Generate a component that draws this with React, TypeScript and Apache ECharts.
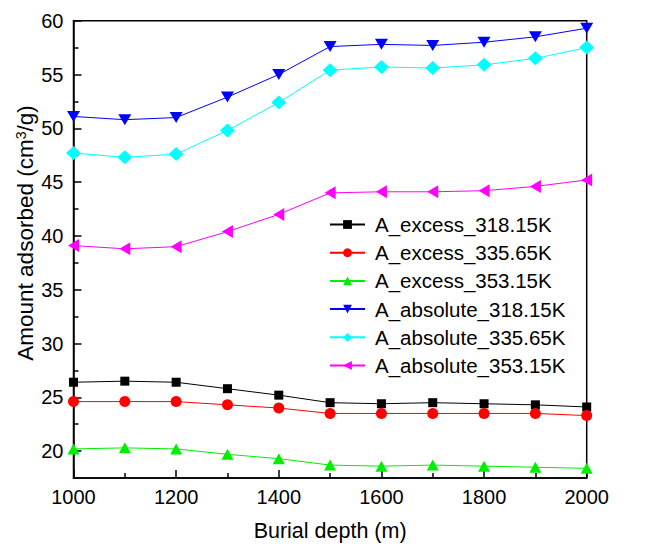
import React, { useEffect, useRef } from "react";
import * as echarts from "echarts";

const depths = [1000, 1100, 1200, 1300, 1400, 1500, 1600, 1700, 1800, 1900, 2000];
const excess318 = [26.4, 26.5, 26.4, 25.8, 25.2, 24.5, 24.4, 24.5, 24.4, 24.3, 24.1];
const excess335 = [24.6, 24.6, 24.6, 24.3, 24.0, 23.5, 23.5, 23.5, 23.5, 23.5, 23.3];
const excess353 = [20.2, 20.3, 20.2, 19.7, 19.3, 18.7, 18.6, 18.7, 18.6, 18.5, 18.4];
const absolute318 = [51.1, 50.8, 51.0, 52.9, 55.0, 57.6, 57.8, 57.7, 58.0, 58.5, 59.3];
const absolute335 = [47.7, 47.3, 47.6, 49.8, 52.4, 55.4, 55.7, 55.6, 55.9, 56.5, 57.5];
const absolute353 = [39.1, 38.8, 39.0, 40.4, 42.0, 44.0, 44.1, 44.1, 44.2, 44.6, 45.2];

const seriesNames = [
  "A_excess_318.15K",
  "A_excess_335.65K",
  "A_excess_353.15K",
  "A_absolute_318.15K",
  "A_absolute_335.65K",
  "A_absolute_353.15K",
];
const yMajorTicks = [20, 25, 30, 35, 40, 45, 50, 55, 60];
const yMinorTicks = [22.5, 27.5, 32.5, 37.5, 42.5, 47.5, 52.5, 57.5];

const FONT = 'Arial, "Liberation Sans", sans-serif';

export default function App() {
  const ref = useRef<HTMLDivElement>(null);
  useEffect(() => {
    if (!ref.current) return;
    const chart = echarts.init(ref.current, null, { renderer: "svg" });
    const values = [excess318, excess335, excess353, absolute318, absolute335, absolute353];
    const colors = ["#000000", "#ff0000", "#00ee00", "#0000ff", "#00ffff", "#ff00ff"];
    const symbols = ["rect", "circle", "triangle", "triangle", "diamond", "triangle"];
    const rotates = [0, 0, 0, 180, 0, 90];
    const sizes: any[] = [9, 11, [12, 11], [13, 11], [15, 14], [13, 11]];
    const series = values.map((arr, i) => ({
      name: seriesNames[i],
      type: "line",
      data: depths.map((d, j) => [d, arr[j]]),
      symbol: symbols[i],
      symbolRotate: rotates[i],
      symbolSize: sizes[i],
      showAllSymbol: true,
      color: colors[i],
      lineStyle: { color: colors[i], width: 1 },
      itemStyle: { color: colors[i] },
      clip: true,
    }));
    chart.setOption({
      animation: false,
      backgroundColor: "#ffffff",
      textStyle: { fontFamily: FONT },
      grid: {
        left: 73.5,
        right: 77.3,
        top: 20.7,
        bottom: 68.7,
        show: true,
        borderColor: "#000",
        borderWidth: 1.5,
        containLabel: false,
      },
      legend: {
        orient: "vertical",
        left: 324,
        top: 209,
        itemWidth: 35,
        itemHeight: 11,
        itemGap: 7.2,
        data: seriesNames,
        textStyle: { fontSize: 20.5, color: "#000", fontFamily: FONT, padding: [0, 0, 0, 5] },
      },
      xAxis: {
        type: "value",
        min: 1000,
        max: 2000,
        interval: 200,
        name: "Burial depth (m)",
        nameLocation: "middle",
        nameGap: 42,
        nameTextStyle: { fontSize: 21.5, color: "#000", fontFamily: FONT },
        axisLine: { show: true, lineStyle: { color: "#000", width: 1.5 } },
        axisTick: { show: true, inside: true, length: 8, lineStyle: { color: "#000", width: 1.5 } },
        minorTick: { show: true, splitNumber: 2, length: 5, lineStyle: { color: "#000", width: 1.5 } },
        axisLabel: {
          fontSize: 20,
          color: "#000",
          margin: 9,
          fontFamily: FONT,
          formatter: (v: number) => String(v),
        },
        splitLine: { show: false },
      },
      yAxis: [
        {
          type: "value",
          min: 17.5,
          max: 60,
          axisLine: { show: true, lineStyle: { color: "#000", width: 1.5 } },
          axisTick: {
            show: true,
            inside: true,
            length: 8,
            customValues: yMajorTicks,
            lineStyle: { color: "#000", width: 1.5 },
          },
          axisLabel: {
            fontSize: 20,
            color: "#000",
            margin: 10,
            customValues: yMajorTicks,
            fontFamily: FONT,
            formatter: (v: number) => String(v),
          },
          splitLine: { show: false },
        },
        {
          type: "value",
          min: 17.5,
          max: 60,
          position: "left",
          axisLine: { show: false },
          axisTick: {
            show: true,
            inside: true,
            length: 5,
            customValues: yMinorTicks,
            lineStyle: { color: "#000", width: 1.5 },
          },
          axisLabel: { show: false },
          splitLine: { show: false },
        },
      ],
      graphic: [
        {
          type: "text",
          x: 25,
          y: 233,
          rotation: Math.PI / 2,
          style: {
            text: "{a|Amount adsorbed (cm}{s|3}{a|/g)}",
            align: "center",
            verticalAlign: "middle",
            fill: "#000",
            rich: {
              a: { fontSize: 22.5, fontFamily: FONT, fill: "#000" },
              s: { fontSize: 14, fontFamily: FONT, fill: "#000", verticalAlign: "top", padding: [0, 0, 8, 0] },
            },
          },
        },
      ],
      series,
    });
    return () => chart.dispose();
  }, []);
  return (
    <div
      ref={ref}
      style={{ position: "absolute", left: 0, top: 0, width: 664, height: 547, background: "#fff" }}
    />
  );
}
